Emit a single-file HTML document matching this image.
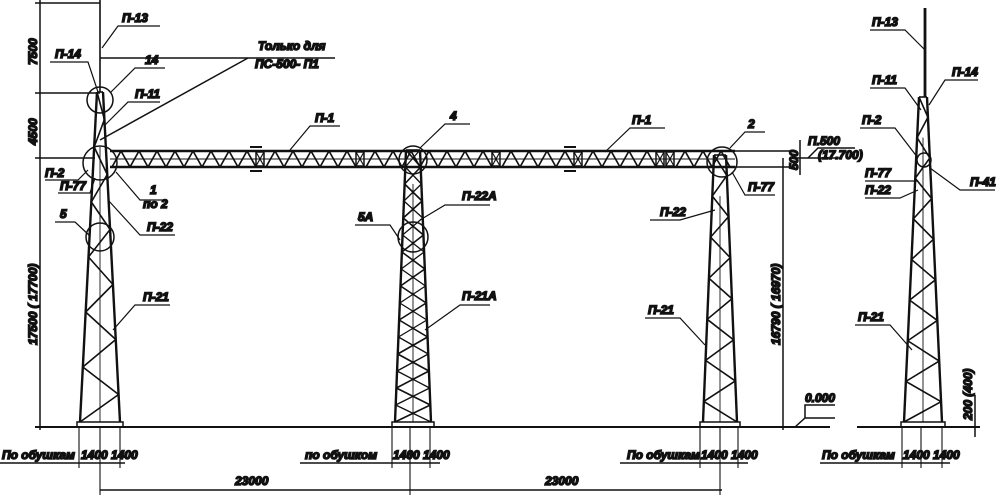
<!DOCTYPE html>
<html><head><meta charset="utf-8"><style>
html,body{margin:0;padding:0;background:#fff;width:1000px;height:500px;overflow:hidden}
svg text{font-family:"Liberation Sans",sans-serif;font-style:italic;font-weight:bold;font-size:12px;fill:#111}
</style></head><body>
<svg id="s" width="1000" height="500" viewBox="0 0 1000 500" xmlns="http://www.w3.org/2000/svg" stroke="#111" fill="none" stroke-width="1.5">
<g id="g"></g>
<line x1="35" y1="427" x2="830" y2="427" stroke-width="2"/>
<line x1="857" y1="427" x2="980" y2="427" stroke-width="2"/>
<line x1="100" y1="0" x2="100" y2="92" stroke-width="1.6"/>
<line x1="925" y1="8" x2="925" y2="97" stroke-width="2.8"/>
<line x1="40" y1="0" x2="40" y2="430"/>
<line x1="35" y1="3" x2="100" y2="3"/>
<line x1="35" y1="93" x2="100" y2="93"/>
<line x1="35" y1="158" x2="95" y2="158"/>
<line x1="100" y1="58" x2="335" y2="58"/>
<line x1="100" y1="140" x2="248" y2="58"/>
<line x1="0" y1="463" x2="125" y2="463"/>
<line x1="300" y1="463" x2="440" y2="463"/>
<line x1="620" y1="463" x2="748" y2="463"/>
<line x1="820" y1="463" x2="950" y2="463"/>
<line x1="100" y1="490" x2="722" y2="490"/>
<g stroke-width="1.1">
<line x1="79" y1="427" x2="79" y2="468"/><line x1="100" y1="427" x2="100" y2="495"/><line x1="120" y1="427" x2="120" y2="468"/>
<line x1="392" y1="427" x2="392" y2="468"/><line x1="410" y1="427" x2="410" y2="495"/><line x1="430" y1="427" x2="430" y2="468"/>
<line x1="700" y1="427" x2="700" y2="468"/><line x1="720" y1="427" x2="720" y2="495"/><line x1="738" y1="427" x2="738" y2="468"/>
<line x1="902" y1="427" x2="902" y2="468"/><line x1="921" y1="427" x2="921" y2="468"/><line x1="942" y1="427" x2="942" y2="468"/>
</g>
<line x1="783" y1="158" x2="783" y2="430"/>
<line x1="735" y1="167" x2="790" y2="167"/>
<line x1="735" y1="151" x2="790" y2="151"/>
<line x1="800" y1="140" x2="800" y2="175"/>
<line x1="790" y1="158" x2="840" y2="158"/>
<path d="M808 158 L818 148 L855 148"/>
<path d="M795 427 L805 418 L835 418 M805 418 L805 405 L835 405"/>
<line x1="975" y1="395" x2="975" y2="437"/>
<circle cx="100" cy="100" r="13"/><circle cx="100" cy="163" r="17"/><circle cx="100" cy="237" r="14"/>
<circle cx="413" cy="160" r="14"/><circle cx="413" cy="237" r="15"/>
<circle cx="722" cy="162" r="15"/><circle cx="924" cy="160" r="7"/>
<g stroke-width="1.2">
<path d="M102 48 L118 26 L160 26"/>
<path d="M98 92 L88 62 L50 62"/>
<path d="M111 92 L135 68 L165 68"/>
<path d="M105 125 L128 102 L160 102"/>
<path d="M88 170 L78 180 L45 180"/>
<path d="M95 178 L90 193 L58 193"/>
<path d="M116 172 L140 200 L165 200"/>
<path d="M90 236 L75 222 L55 222"/>
<path d="M108 200 L140 235 L175 235"/>
<path d="M113 330 L135 305 L170 305"/>
<path d="M290 150 L310 126 L340 126"/>
<path d="M420 148 L445 124 L470 124"/>
<path d="M420 220 L445 205 L490 205"/>
<path d="M400 240 L390 225 L355 225"/>
<path d="M425 330 L460 305 L490 305"/>
<path d="M605 152 L630 128 L665 128"/>
<path d="M730 148 L745 132 L765 132"/>
<path d="M732 172 L745 195 L775 195"/>
<path d="M715 210 L680 220 L650 220"/>
<path d="M705 345 L680 318 L645 318"/>
<path d="M925 50 L905 30 L870 30"/>
<path d="M921 110 L905 88 L870 88"/>
<path d="M929 105 L945 80 L978 80"/>
<path d="M918 158 L895 128 L860 128"/>
<path d="M918 181 L865 181"/>
<path d="M918 190 L900 198 L865 198"/>
<path d="M930 168 L960 190 L995 190"/>
<path d="M912 350 L890 325 L855 325"/>
</g>
<text x="122" y="22">П-13</text>
<text x="258" y="50">Только  для</text>
<text x="255" y="68">ПС-500- П1</text>
<text x="55" y="58">П-14</text>
<text x="145" y="64">14</text>
<text x="135" y="98">П-11</text>
<text x="45" y="177">П-2</text>
<text x="60" y="190">П-77</text>
<text x="150" y="194">1</text>
<text x="143" y="208">по 2</text>
<text x="60" y="218">5</text>
<text x="147" y="231">П-22</text>
<text x="143" y="301">П-21</text>
<text x="315" y="122">П-1</text>
<text x="450" y="120">4</text>
<text x="462" y="200">П-22А</text>
<text x="358" y="221">5А</text>
<text x="462" y="300">П-21А</text>
<text x="632" y="124">П-1</text>
<text x="748" y="128">2</text>
<text x="748" y="191">П-77</text>
<text x="660" y="216">П-22</text>
<text x="648" y="314">П-21</text>
<text x="808" y="145" font-size="11">П.500</text>
<text x="818" y="159" font-size="11">(17.700)</text>
<text x="805" y="402" font-size="11">0.000</text>
<text x="872" y="26">П-13</text>
<text x="872" y="84">П-11</text>
<text x="952" y="76">П-14</text>
<text x="862" y="124">П-2</text>
<text x="865" y="177">П-77</text>
<text x="865" y="194">П-22</text>
<text x="970" y="186">П-41</text>
<text x="858" y="321">П-21</text>
<text x="2" y="459" font-size="11">По обушкам</text>
<text x="81" y="459" font-size="8">1400 1400</text>
<text x="305" y="459" font-size="11">по обушком</text>
<text x="393" y="459" font-size="8">1400 1400</text>
<text x="627" y="459" font-size="11">По обушкам</text>
<text x="701" y="459" font-size="8">1400 1400</text>
<text x="822" y="459" font-size="11">По обушкам</text>
<text x="903" y="459" font-size="8">1400 1400</text>
<text x="235" y="485">23000</text>
<text x="545" y="485">23000</text>
<text transform="translate(37,65) rotate(-90)">7500</text>
<text transform="translate(37,145) rotate(-90)">4500</text>
<text transform="translate(37,345) rotate(-90)">17500 ( 17700)</text>
<text transform="translate(780,345) rotate(-90)" font-size="11">16790 ( 16970)</text>
<text transform="translate(798,170) rotate(-90)" font-size="9">500</text>
<text transform="translate(972,420) rotate(-90)" font-size="11">200 (400)</text>
</svg>
<script>
var g=document.getElementById('g'),NS='http://www.w3.org/2000/svg';
function L(a,b,c,d,w){var l=document.createElementNS(NS,'line');l.setAttribute('x1',a);l.setAttribute('y1',b);l.setAttribute('x2',c);l.setAttribute('y2',d);if(w)l.setAttribute('stroke-width',w);g.appendChild(l);}
function R(x,y,w,h){var r=document.createElementNS(NS,'rect');r.setAttribute('x',x);r.setAttribute('y',y);r.setAttribute('width',w);r.setAttribute('height',h);g.appendChild(r);}
function tower(cx,ty,th,by,bh,n,cross){
 L(cx-th,ty,cx-bh,by,2.4);L(cx+th,ty,cx+bh,by,2.4);L(cx-th,ty,cx+th,ty,1.6);
 var hw=function(y){return th+(bh-th)*(y-ty)/(by-ty);};
 var step=(by-ty)/n;
 for(var i=0;i<n;i++){var y1=ty+i*step,y2=y1+step,a=hw(y1),b=hw(y2);
  if(i%2==0)L(cx-a,y1,cx+b,y2,1.6);else L(cx+a,y1,cx-b,y2,1.6);
  if(cross)L(i%2==0?cx+a:cx-a,y1,i%2==0?cx-b:cx+b,y2,1.3);}
 L(cx,ty+step*2,cx,by,0.9);
 R(cx-bh-3,by,2*bh+6,5);
}
tower(100,92,3,422,20,12,false);
tower(413,150,7,422,18,16,true);
tower(720,155,6,422,17,13,false);
tower(923,97,4,422,19,16,false);
L(110,151,735,151,2.5);L(110,167,735,167,2.5);L(110,159,735,159,0.9);
var x=112,p=18;
while(x<728){ if([255,350,490,570,660].some(function(s){return Math.abs(x-s)<9;})){R(x,152,8,14);L(x,152,x+8,166,1.2);L(x+8,152,x,166,1.2);x+=10;continue;}
 L(x,167,x+p/2,151,1.7);L(x+p/2,151,x+p,167,1.7);x+=p;}
L(250,147,262,147,2);L(250,171,262,171,2);L(564,147,576,147,2);L(564,171,576,171,2);
</script>
</body></html>
